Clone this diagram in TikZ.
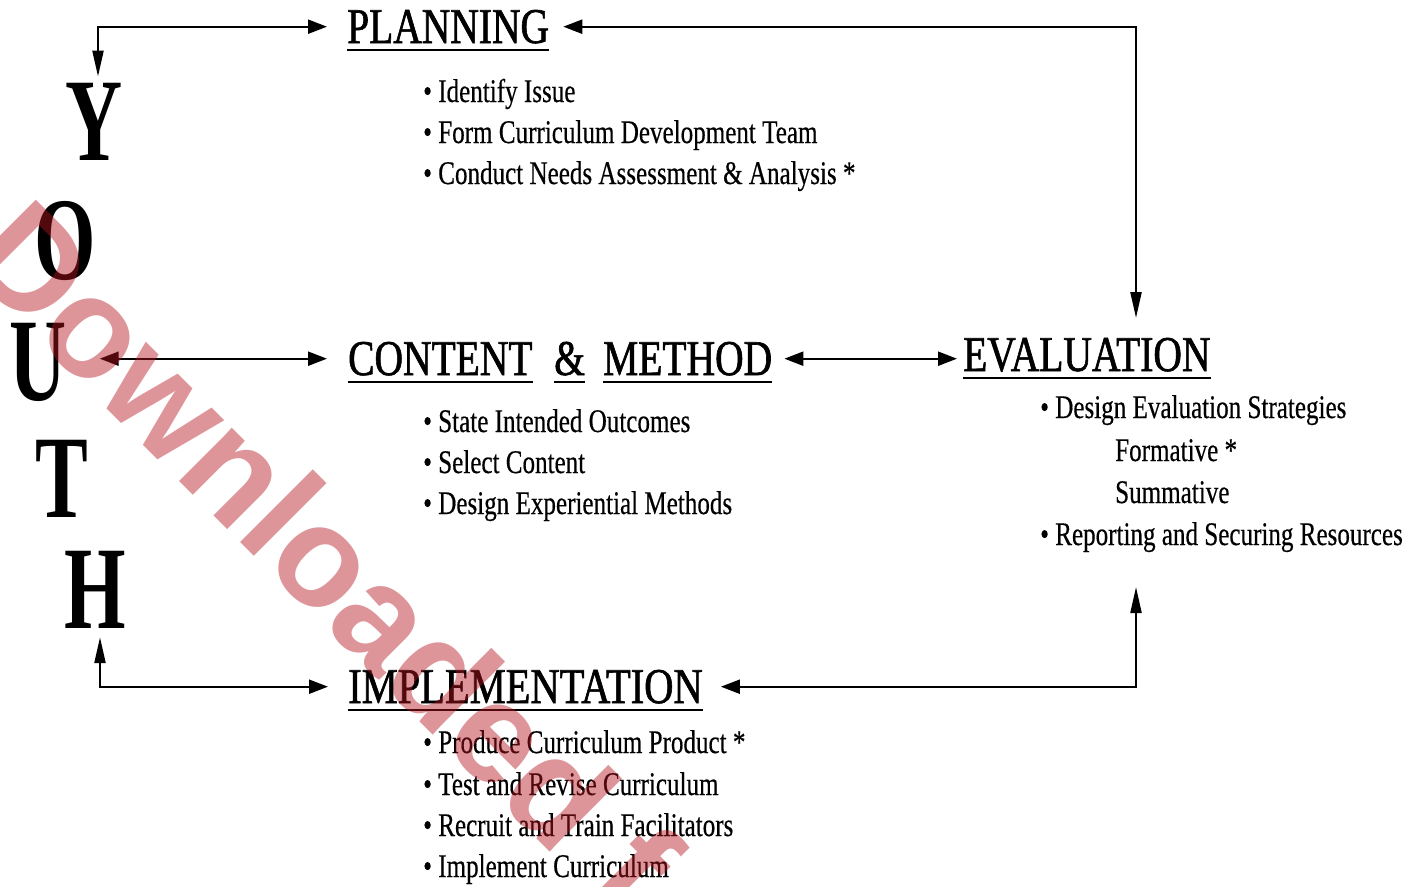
\documentclass[tikz,border=0pt]{standalone}
\usepackage{fontspec}
\setmainfont{Liberation Serif}
\newfontfamily\bodyf[FakeStretch=0.76,FakeBold=0.4]{Liberation Serif}
\newfontfamily\headf[FakeStretch=0.79,FakeBold=1.2]{Liberation Serif}
\newfontfamily\headwf[FakeStretch=0.81,FakeBold=1.2]{Liberation Serif}
\newfontfamily\youthf[FakeStretch=0.67]{Liberation Serif}
\newfontfamily\wmf{Liberation Sans}
\usetikzlibrary{arrows.meta,calc}
\definecolor{wmred}{RGB}{181,22,33}
\begin{document}
\begin{tikzpicture}[x=1pt,y=-1pt,
  hv/.style={line width=2.2pt, {Triangle[length=26pt,width=11pt]}-{Triangle[length=19pt,width=14pt]}},
  hh/.style={line width=2.2pt, {Triangle[length=19pt,width=14pt]}-{Triangle[length=19pt,width=14pt]}},
  head/.style={inner sep=0pt, anchor=base west, font=\headf\fontsize{50}{50}\selectfont},
  item/.style={inner sep=0pt, anchor=base west, font=\bodyf\fontsize{33}{33}\selectfont},
  letter/.style={inner sep=0pt, anchor=base, font=\youthf\bfseries\fontsize{118}{118}\selectfont},
  ul/.style={line width=2.8pt},
  wm/.style={inner sep=0pt, anchor=base west, rotate=-45, text=wmred, text opacity=0.45,
    font=\wmf\bfseries\fontsize{142}{142}\selectfont}]
\useasboundingbox (0,0) rectangle (1415,886);
\fill[white] (0,0) rectangle (1415,886);

% YOUTH
\node[letter] (Y) at (94,160) {Y};
\node[letter] (O) at (65,279) {O};
\node[letter] (U) at (38,400) {U};
\node[letter] (T) at (62,517) {T};
\node[letter] (H) at (95,628) {H};

% headings
\node[head] (plan) at (347,43) {PLANNING};
\node[head] (cont) at (348,375) {CONTENT};
\node[head] (amp) at (554,375) {\&};
\node[head] (meth) at (603,375) {METHOD};
\node[head] (eval) at (963,371) {EVALUATION};
\node[head, font=\headwf\fontsize{50}{50}\selectfont] (impl) at (348,703) {IMPLEMENTATION};
\foreach \n in {plan,cont,amp,meth,eval,impl}
  \draw[ul] ($(\n.base west)+(0,7)$) -- ($(\n.base east)+(0,7)$);

% planning items
\node[item] (p1) at (423,102) {• Identify Issue};
\node[item] (p2) at (423,143) {• Form Curriculum Development Team};
\node[item] (p3) at (423,184) {• Conduct Needs Assessment \& Analysis *};
% content items
\node[item] (c1) at (423,432) {• State Intended Outcomes};
\node[item] (c2) at (423,473) {• Select Content};
\node[item] (c3) at (423,514) {• Design Experiential Methods};
% evaluation items
\node[item] (e1) at (1040,418) {• Design Evaluation Strategies};
\node[item] (e2) at (1115,461) {Formative *};
\node[item] (e3) at (1115,503) {Summative};
\node[item] (e4) at (1040,545) {• Reporting and Securing Resources};
% implementation items
\node[item] (i1) at (423,753) {• Produce Curriculum Product *};
\node[item] (i2) at (423,795) {• Test and Revise Curriculum};
\node[item] (i3) at (423,836) {• Recruit and Train Facilitators};
\node[item] (i4) at (423,877) {• Implement Curriculum};

% connectors
\coordinate (evaltop) at (1136,318);
\coordinate (evalbot) at (1136,587);
\draw[hv] ($(Y.north)+(4,-6)$) |- ($(plan.west)+(-20,0)$);
\draw[hv] (evaltop) |- ($(plan.east)+(14,0)$);
\draw[hh] ($(U.east |- cont.west)+(33,0)$) -- ($(cont.west)+(-21,0)$);
\draw[hh] ($(meth.east)+(12,0)$) -- ($(eval.west |- meth.east)+(-6,0)$);
\draw[hv] ($(H.south)+(5,9)$) |- ($(impl.west)+(-20,0)$);
\draw[hv] (evalbot) |- ($(impl.east)+(18,0)$);

% watermark
\node[wm] (wmark) at (-40,262) {Downloaded f};
\end{tikzpicture}
\end{document}
